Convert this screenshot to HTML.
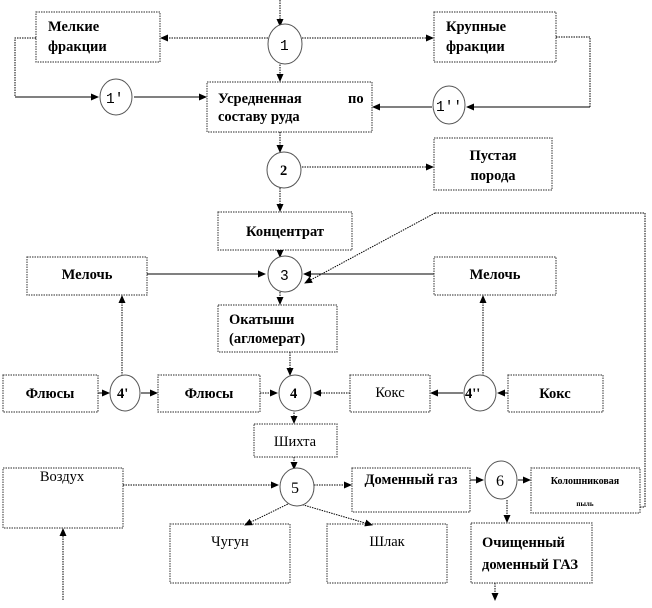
<!DOCTYPE html>
<html><head><meta charset="utf-8"><style>
body{margin:0;background:#fff;}
svg text{font-family:"Liberation Serif","DejaVu Serif",serif;font-weight:bold;font-size:14.5px;fill:#000;}
.m{font-family:"Liberation Mono",monospace;font-weight:normal;}
</style></head><body>
<svg width="652" height="603" viewBox="0 0 652 603" xmlns="http://www.w3.org/2000/svg">
<defs><marker id="a" markerWidth="8" markerHeight="8" refX="7" refY="4" orient="auto" markerUnits="userSpaceOnUse"><path d="M0,0.5 L8,4 L0,7.5z" fill="#000"/></marker></defs>
<g fill="#fff" stroke="#555" stroke-width="1.2" stroke-dasharray="1.5 1">
<rect x="36" y="12" width="124" height="50"/>
<rect x="434" y="12" width="122" height="50"/>
<rect x="207" y="82" width="165" height="50"/>
<rect x="434" y="138" width="118" height="52"/>
<rect x="218" y="212" width="134" height="38"/>
<rect x="27" y="257" width="120" height="38"/>
<rect x="434" y="257" width="122" height="38"/>
<rect x="218" y="305" width="119" height="47"/>
<rect x="3" y="375" width="95" height="37"/>
<rect x="158" y="375" width="102" height="37"/>
<rect x="350" y="375" width="80" height="37"/>
<rect x="508" y="375" width="95" height="37"/>
<rect x="254" y="424" width="83" height="33"/>
<rect x="3" y="468" width="120" height="60"/>
<rect x="352" y="468" width="118" height="44"/>
<rect x="531" y="468" width="109" height="45"/>
<rect x="170" y="524" width="120" height="59"/>
<rect x="327" y="524" width="120" height="59"/>
<rect x="471" y="523" width="121" height="60"/>
</g>
<g fill="none" stroke="#000" stroke-width="1" stroke-dasharray="1.5 1">
<path d="M280,0 V26" marker-end="url(#a)"/>
<path d="M268,38 H161" marker-end="url(#a)"/>
<path d="M302,38 H433" marker-end="url(#a)"/>
<path d="M280,62 V81" marker-end="url(#a)"/>
<path d="M36,38 H15 V97"/>
<path d="M556,37 H590 V107"/>
<path d="M280,132 V152" marker-end="url(#a)"/>
<path d="M302,167 H433" marker-end="url(#a)"/>
<path d="M280,188 V211" marker-end="url(#a)"/>
<path d="M280,250 V257" marker-end="url(#a)"/>
<path d="M280,292 V304" marker-end="url(#a)"/>
<path d="M435,213 L305,283" marker-end="url(#a)"/>
<path d="M435,213 H645 V507 H640"/>
<path d="M290,352 V375" marker-end="url(#a)"/>
<path d="M122,376 V296" marker-end="url(#a)"/>
<path d="M483,376 V296" marker-end="url(#a)"/>
<path d="M260,393 H277" marker-end="url(#a)"/>
<path d="M350,393 H314" marker-end="url(#a)"/>
<path d="M294,410 V423" marker-end="url(#a)"/>
<path d="M294,457 V469" marker-end="url(#a)"/>
<path d="M123,485 H278" marker-end="url(#a)"/>
<path d="M63,600 V529" marker-end="url(#a)"/>
<path d="M314,485 H351" marker-end="url(#a)"/>
<path d="M290,503 L245,525" marker-end="url(#a)"/>
<path d="M300,504 L372,525" marker-end="url(#a)"/>
<path d="M507,500 V522" marker-end="url(#a)"/>
<path d="M495,583 V600" marker-end="url(#a)"/>
</g>
<g fill="none" stroke="#000" stroke-width="1">
<path d="M15,97 H98" marker-end="url(#a)"/>
<path d="M134,97 H206" marker-end="url(#a)"/>
<path d="M590,107 H467" marker-end="url(#a)"/>
<path d="M432,107 H373" marker-end="url(#a)"/>
<path d="M147,274 H265" marker-end="url(#a)"/>
<path d="M434,274 H304" marker-end="url(#a)"/>
<path d="M98,393 H109" marker-end="url(#a)"/>
<path d="M141,393 H157" marker-end="url(#a)"/>
<path d="M508,393 H498" marker-end="url(#a)"/>
<path d="M463,393 H431" marker-end="url(#a)"/>
<path d="M470,480 H483" marker-end="url(#a)"/>
<path d="M518,480 H530" marker-end="url(#a)"/>
</g>
<g fill="#fff" stroke="#555" stroke-width="1">
<ellipse cx="285" cy="44" rx="17" ry="20"/>
<ellipse cx="116" cy="97" rx="16" ry="18"/>
<ellipse cx="449" cy="105" rx="16" ry="19"/>
<ellipse cx="284" cy="170" rx="17" ry="18"/>
<ellipse cx="285" cy="274" rx="17" ry="18"/>
<ellipse cx="125" cy="393" rx="15" ry="18"/>
<ellipse cx="295" cy="393" rx="16" ry="18"/>
<ellipse cx="480" cy="393" rx="16" ry="18"/>
<ellipse cx="297" cy="487" rx="17" ry="19"/>
<ellipse cx="501" cy="480" rx="16" ry="19"/>
</g>
<text class="m" x="280" y="50">1</text>
<text class="m" x="106" y="103">1'</text>
<text class="m" x="436" y="111">1''</text>
<text x="280" y="175">2</text>
<text class="m" x="280" y="280">3</text>
<text x="117" y="398">4'</text>
<text x="290" y="398">4</text>
<text x="465" y="398">4''</text>
<text x="291" y="493" style="font-weight:normal;font-size:16px">5</text>
<text x="496" y="486" style="font-weight:normal;font-size:16px">6</text>
<text x="48" y="31">Мелкие</text><text x="48" y="51">фракции</text>
<text x="446" y="31">Крупные</text><text x="446" y="51">фракции</text>
<text x="218" y="103">Усредненная</text><text x="348" y="103">по</text><text x="218" y="121">составу руда</text>
<text x="493" y="160" text-anchor="middle">Пустая</text><text x="493" y="180" text-anchor="middle">порода</text>
<text x="285" y="236" text-anchor="middle">Концентрат</text>
<text x="87" y="279" text-anchor="middle">Мелочь</text>
<text x="495" y="279" text-anchor="middle">Мелочь</text>
<text x="229" y="324">Окатыши</text><text x="229" y="343">(агломерат)</text>
<text x="50" y="398" text-anchor="middle">Флюсы</text>
<text x="209" y="398" text-anchor="middle">Флюсы</text>
<text x="390" y="397" text-anchor="middle" style="font-weight:normal">Кокс</text>
<text x="555" y="398" text-anchor="middle">Кокс</text>
<text x="295" y="446" text-anchor="middle" style="font-weight:normal">Шихта</text>
<text x="62" y="481" text-anchor="middle" style="font-weight:normal">Воздух</text>
<text x="411" y="484" text-anchor="middle">Доменный газ</text>
<text x="585" y="484" text-anchor="middle" style="font-size:10px">Колошниковая</text>
<text x="585" y="506" text-anchor="middle" style="font-size:7px">пыль</text>
<text x="230" y="546" text-anchor="middle" style="font-weight:normal">Чугун</text>
<text x="387" y="546" text-anchor="middle" style="font-weight:normal">Шлак</text>
<text x="482" y="547">Очищенный</text><text x="482" y="569">доменный ГАЗ</text>
</svg>
</body></html>
